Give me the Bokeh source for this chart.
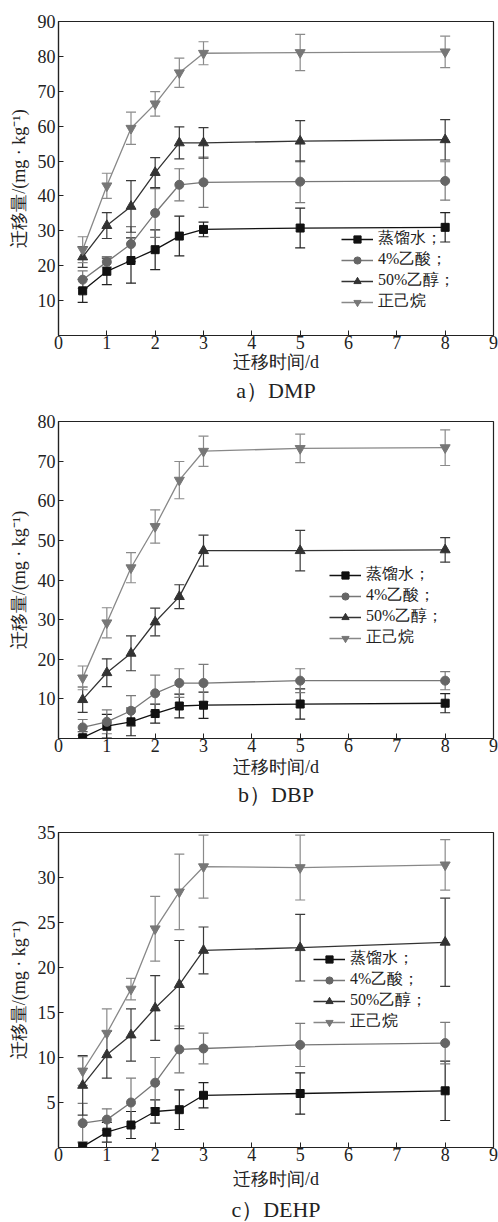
from bokeh.plotting import figure
from bokeh.models import (ColumnDataSource, Whisker, TeeHead, Legend, LegendItem,
                          FixedTicker, Range1d, Title)
from bokeh.layouts import column
from bokeh.embed import file_html
from bokeh.resources import INLINE

FONT = "Liberation Serif"

# ---------------- data ----------------
days = [0.5, 1, 1.5, 2, 2.5, 3, 5, 8]
series_names = ["蒸馏水；", "4%乙酸；", "50%乙醇；", "正己烷"]

dmp_water = [12.8, 18.4, 21.5, 24.6, 28.5, 30.4, 30.8, 31.0]
dmp_water_err = [3.3, 3.8, 6.5, 5.7, 5.7, 2.1, 5.7, 4.2]
dmp_acid = [16.0, 21.1, 26.2, 35.1, 43.2, 43.9, 44.1, 44.3]
dmp_acid_err = [2.5, 1.5, 5.0, 7.0, 4.6, 7.2, 6.0, 5.5]
dmp_ethanol = [22.5, 31.5, 37.0, 46.7, 55.2, 55.2, 55.7, 56.1]
dmp_ethanol_err = [3.0, 3.7, 7.4, 4.3, 4.6, 4.4, 5.9, 5.8]
dmp_hexane = [24.6, 42.9, 59.4, 66.4, 75.3, 80.9, 81.1, 81.3]
dmp_hexane_err = [3.7, 3.6, 4.6, 3.5, 4.2, 3.3, 5.2, 4.5]

dbp_water = [0.2, 3.1, 4.2, 6.3, 8.2, 8.4, 8.7, 8.9]
dbp_water_err = [1.5, 3.0, 3.5, 2.4, 3.0, 3.3, 3.8, 2.4]
dbp_acid = [2.8, 4.2, 7.0, 11.4, 14.0, 14.0, 14.6, 14.6]
dbp_acid_err = [2.0, 3.0, 3.8, 4.6, 3.6, 4.7, 3.0, 2.3]
dbp_ethanol = [9.8, 16.6, 21.5, 29.4, 35.8, 47.4, 47.4, 47.6]
dbp_ethanol_err = [3.2, 3.5, 4.4, 3.5, 3.0, 3.9, 5.1, 3.1]
dbp_hexane = [15.3, 29.2, 43.1, 53.5, 65.2, 72.5, 73.2, 73.4]
dbp_hexane_err = [3.0, 3.8, 3.8, 4.2, 4.7, 3.8, 3.6, 4.5]

dehp_water = [0.1, 1.7, 2.5, 4.0, 4.2, 5.8, 6.0, 6.3]
dehp_water_err = [0.5, 1.1, 1.5, 1.3, 2.2, 1.4, 2.3, 3.3]
dehp_acid = [2.7, 3.1, 5.0, 7.2, 10.9, 11.0, 11.4, 11.6]
dehp_acid_err = [2.2, 1.2, 2.7, 2.8, 2.6, 1.7, 2.4, 2.3]
dehp_ethanol = [6.9, 10.3, 12.5, 15.5, 18.1, 21.9, 22.2, 22.8]
dehp_ethanol_err = [3.3, 2.6, 2.9, 3.6, 4.9, 2.6, 3.7, 4.9]
dehp_hexane = [8.5, 12.7, 17.6, 24.3, 28.4, 31.2, 31.1, 31.4]
dehp_hexane_err = [1.6, 2.7, 1.2, 3.6, 4.2, 3.5, 3.6, 2.8]

x_ticks = [0, 1, 2, 3, 4, 5, 6, 7, 8, 9]
dmp_y_ticks = [10, 20, 30, 40, 50, 60, 70, 80, 90]
dbp_y_ticks = [10, 20, 30, 40, 50, 60, 70, 80]
dehp_y_ticks = [5, 10, 15, 20, 25, 30, 35]

# ---------------- styles ----------------
styles = [
    dict(marker="square", size=8, line="#111111", fill="#111111", err="#222222"),
    dict(marker="circle", size=9, line="#777777", fill="#666666", err="#7a7a7a"),
    dict(marker="triangle", size=10, line="#333333", fill="#333333", err="#3a3a3a"),
    dict(marker="inverted_triangle", size=10, line="#888888", fill="#777777", err="#8a8a8a"),
]


def make_panel(values, errs, ymax, yticks, caption, top, frame_h, bottom,
               legend_xy, xlab_standoff, cap_standoff):
    p = figure(frame_width=435, frame_height=frame_h, output_backend="svg",
               toolbar_location=None,
               x_range=Range1d(0, 9), y_range=Range1d(0, ymax),
               min_border_left=58, min_border_right=5, min_border_top=top,
               min_border_bottom=bottom)
    p.xgrid.visible = False
    p.ygrid.visible = False
    p.outline_line_color = "#222222"
    p.outline_line_width = 1.2
    p.background_fill_color = "white"
    p.border_fill_color = "white"

    for ax in (p.xaxis[0], p.yaxis[0]):
        ax.major_tick_in = 5
        ax.major_tick_out = 0
        ax.minor_tick_in = 0
        ax.minor_tick_out = 0
        ax.axis_line_color = "#222222"
        ax.axis_line_width = 1.2
        ax.major_tick_line_color = "#222222"
        ax.major_label_text_font = FONT
        ax.major_label_text_font_size = "18px"
        ax.major_label_text_color = "#222222"
        ax.axis_label_text_font = FONT
        ax.axis_label_text_font_size = "18px"
        ax.axis_label_text_font_style = "normal"
        ax.axis_label_text_color = "#222222"
        ax.axis_label_text_line_height = 1.0
    p.xaxis[0].ticker = FixedTicker(ticks=x_ticks)
    p.yaxis[0].ticker = FixedTicker(ticks=yticks)
    p.xaxis[0].major_label_standoff = 0
    p.yaxis[0].major_label_standoff = 3
    p.xaxis[0].axis_label = "迁移时间/d"
    p.yaxis[0].axis_label = "迁移量/(mg · kg⁻¹)"
    p.xaxis[0].axis_label_standoff = xlab_standoff
    p.yaxis[0].axis_label_standoff = 6

    items = []
    for name, vals, er, st in zip(series_names, values, errs, styles):
        src = ColumnDataSource(dict(x=days, y=vals,
                                    upper=[v + e for v, e in zip(vals, er)],
                                    lower=[v - e for v, e in zip(vals, er)]))
        w = Whisker(source=src, base="x", upper="upper", lower="lower",
                    line_color=st["err"], line_width=1.2,
                    upper_head=TeeHead(size=10, line_color=st["err"], line_width=1.2),
                    lower_head=TeeHead(size=10, line_color=st["err"], line_width=1.2))
        p.add_layout(w)
        ln = p.line("x", "y", source=src, line_color=st["line"], line_width=1.3)
        sc = p.scatter("x", "y", source=src, marker=st["marker"], size=st["size"],
                       fill_color=st["fill"], line_color=st["fill"])
        items.append(LegendItem(label=name, renderers=[ln, sc]))

    leg = Legend(items=items, location=legend_xy, orientation="vertical",
                 glyph_width=32, glyph_height=18, label_height=18, spacing=-2,
                 padding=0, margin=0, label_standoff=5,
                 label_text_font=FONT, label_text_font_size="16px",
                 label_text_line_height=1.0,
                 label_text_color="#222222",
                 border_line_color=None, background_fill_alpha=0)
    p.add_layout(leg)

    p.add_layout(Title(text=caption, align="center", text_font=FONT,
                       text_font_size="22px", text_font_style="normal",
                       text_line_height=1.0,
                       text_color="#222222", standoff=cap_standoff, offset=0), "below")
    return p


pa = make_panel([dmp_water, dmp_acid, dmp_ethanol, dmp_hexane],
                [dmp_water_err, dmp_acid_err, dmp_ethanol_err, dmp_hexane_err],
                90, dmp_y_ticks, "a）DMP", 21, 314, 71, (283, 23), 0, 2)
pb = make_panel([dbp_water, dbp_acid, dbp_ethanol, dbp_hexane],
                [dbp_water_err, dbp_acid_err, dbp_ethanol_err, dbp_hexane_err],
                80, dbp_y_ticks, "b）DBP", 15, 317, 70, (271, 90), 2, 1)
pc = make_panel([dehp_water, dehp_acid, dehp_ethanol, dehp_hexane],
                [dehp_water_err, dehp_acid_err, dehp_ethanol_err, dehp_hexane_err],
                35, dehp_y_ticks, "c）DEHP", 24, 315, 75, (255, 115), 5, 7)

layout = column(pa, pb, pc, spacing=0)
open("out.html", "w").write(file_html(layout, INLINE))
